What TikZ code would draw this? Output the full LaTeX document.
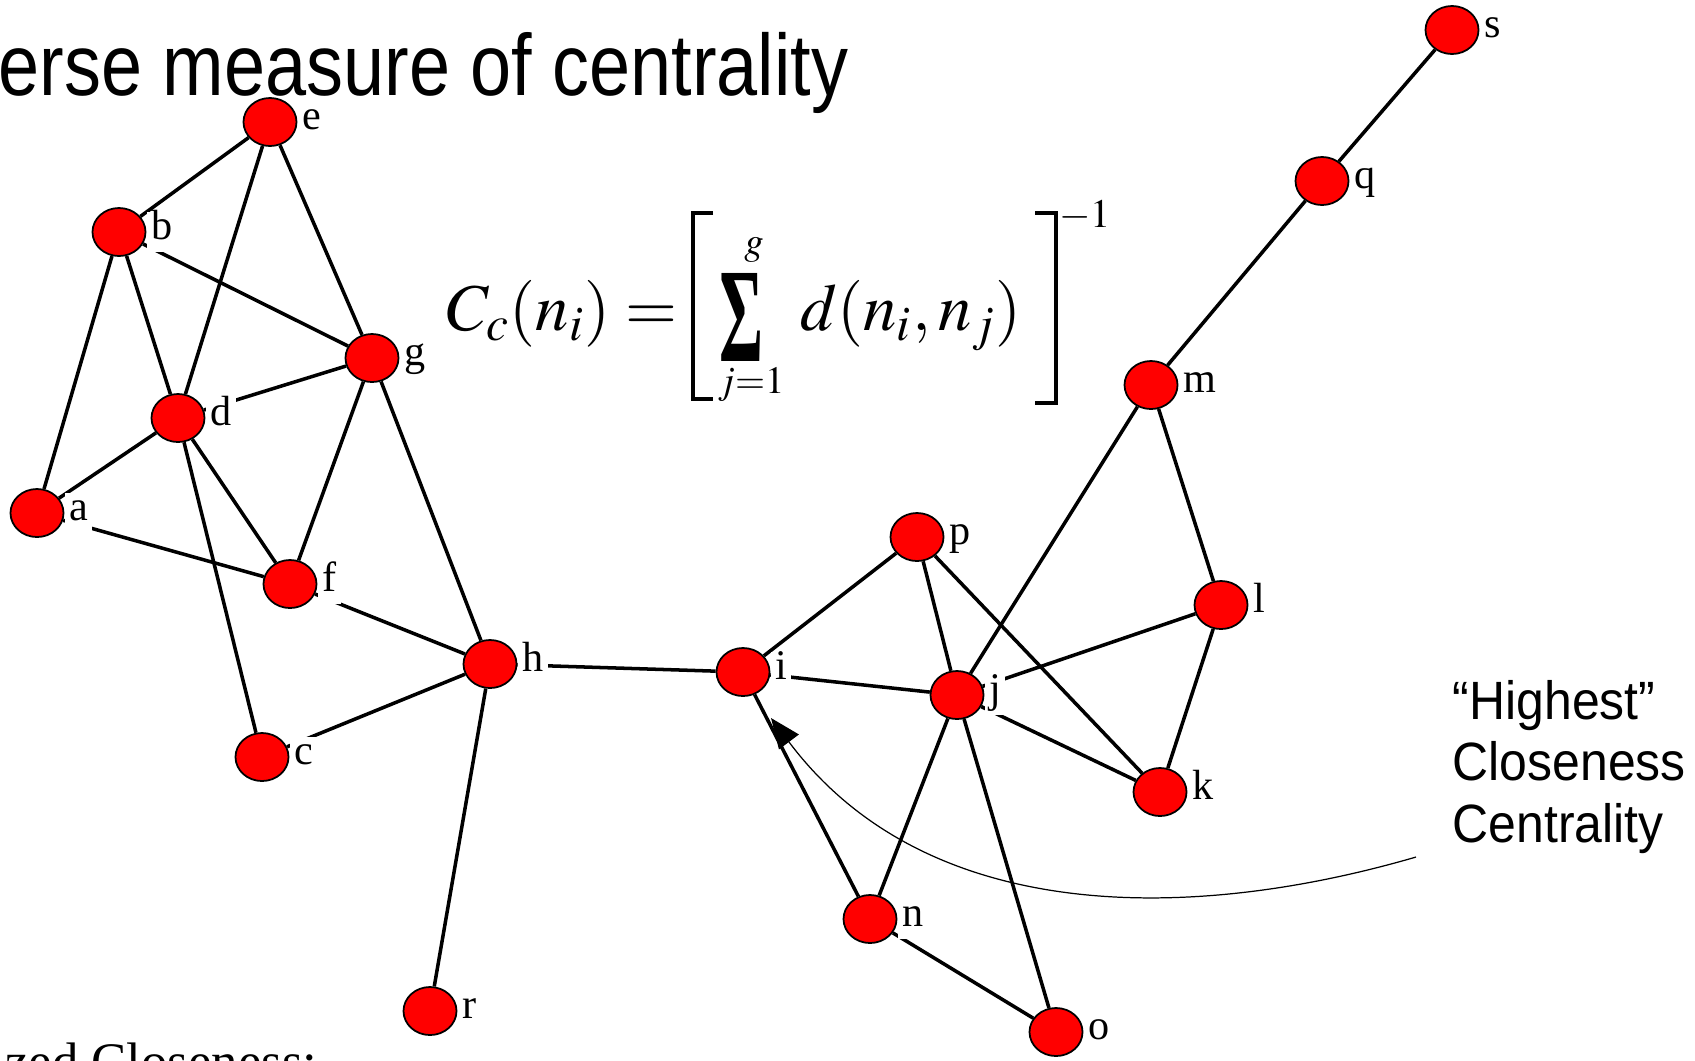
\documentclass[tikz,border=0pt]{standalone}
\usepackage{mathptmx}
\usepackage{graphicx}
\usepackage{fontspec}
\setmainfont{Liberation Serif}
\setsansfont{Liberation Sans}
\usetikzlibrary{backgrounds,arrows.meta,shapes.geometric}
\tikzset{
  vtx/.style={ellipse, draw=black, line width=0.5pt, fill=red,
    minimum width=0.53cm, minimum height=0.48cm, inner sep=0pt},
  vlab/.style={fill=white, inner sep=1.2pt, font=\fontsize{12}{12}\selectfont,
    text height=6.6pt, text depth=2.2pt, label distance=0pt},
  edge/.style={line width=1pt, black},
  bracketline/.style={line width=1pt, black},
  handtext/.style={font=\sffamily, inner sep=0pt, anchor=base west},
  mathtext/.style={font=\fontsize{19}{24}\selectfont, inner sep=0pt},
  limtext/.style={font=\fontsize{11}{13}\selectfont, inner sep=0pt}
}
\begin{document}
\begin{tikzpicture}[x=0.01cm, y=-0.01cm]
\useasboundingbox (0,0) rectangle (1695,1060);
\clip (0,0) rectangle (1695,1060);

% title fragments
\node[handtext, font=\sffamily\fontsize{21}{24}\selectfont] (title) at (-2,95)
  {\scalebox{1}[1.18]{erse measure of centrality}};
\node[font=\fontsize{15}{18}\selectfont, inner sep=0pt, anchor=base east] (norm) at (318,1079)
  {zed Closeness:};

% vertices
\node[vtx, label={[vlab]right:a}] (a) at (37,513) {};
\node[vtx, label={[vlab]right:b}] (b) at (119,232) {};
\node[vtx, label={[vlab]right:c}] (c) at (262,757) {};
\node[vtx, label={[vlab]right:d}] (d) at (178,418) {};
\node[vtx, label={[vlab]right:e}] (e) at (270,122) {};
\node[vtx, label={[vlab]right:f}] (f) at (290,584) {};
\node[vtx, label={[vlab]right:g}] (g) at (372,358) {};
\node[vtx, label={[vlab]right:h}] (h) at (490,664) {};
\node[vtx, label={[vlab]right:i}] (i) at (743,672) {};
\node[vtx, label={[vlab]right:j}] (j) at (957,695) {};
\node[vtx, label={[vlab]right:k}] (k) at (1160,792) {};
\node[vtx, label={[vlab]right:l}] (l) at (1221,605) {};
\node[vtx, label={[vlab]right:m}] (m) at (1151,385) {};
\node[vtx, label={[vlab]right:n}] (n) at (870,919) {};
\node[vtx, label={[vlab]right:o}] (o) at (1056,1032) {};
\node[vtx, label={[vlab]right:p}] (p) at (917,537) {};
\node[vtx, label={[vlab]right:q}] (q) at (1322,181) {};
\node[vtx, label={[vlab]right:r}] (r) at (430,1011) {};
\node[vtx, label={[vlab]right:s}] (s) at (1452,30) {};

% edges behind nodes
\begin{pgfonlayer}{background}
\draw[edge] (e) -- (b);
\draw[edge] (e) -- (d);
\draw[edge] (e) -- (g);
\draw[edge] (b) -- (g);
\draw[edge] (b) -- (d);
\draw[edge] (b) -- (a);
\draw[edge] (d) -- (g);
\draw[edge] (d) -- (a);
\draw[edge] (d) -- (f);
\draw[edge] (d) -- (c);
\draw[edge] (g) -- (f);
\draw[edge] (g) -- (h);
\draw[edge] (a) -- (f);
\draw[edge] (f) -- (h);
\draw[edge] (h) -- (c);
\draw[edge] (h) -- (r);
\draw[edge] (h) -- (i);
\draw[edge] (i) -- (p);
\draw[edge] (i) -- (j);
\draw[edge] (i) -- (n);
\draw[edge] (p) -- (j);
\draw[edge] (p) -- (k);
\draw[edge] (j) -- (m);
\draw[edge] (j) -- (l);
\draw[edge] (j) -- (k);
\draw[edge] (j) -- (n);
\draw[edge] (j) -- (o);
\draw[edge] (n) -- (o);
\draw[edge] (m) -- (l);
\draw[edge] (l) -- (k);
\draw[edge] (m) -- (q);
\draw[edge] (q) -- (s);
\end{pgfonlayer}

% formula
\node[mathtext, anchor=base west] (lhs) at (446,330) {$C_c(n_i)=$};
\node[inner sep=0pt] (sum) at (741,317) {\resizebox{0.44cm}{0.88cm}{\bfseries Σ}};
\node[limtext] (sup) at (754,250) {$g$};
\node[limtext] (sub) at (751,385) {$j{=}1$};
\node[mathtext, anchor=base west] (rhs) at (800,330) {$d(n_i,n_j)$};
\node[inner sep=0pt, font=\fontsize{11.5}{13}\selectfont] (inv) at (1085,216) {$-1$};
\draw[bracketline] (713,213) -- (693,213) -- (693,399) -- (713,399);
\draw[bracketline] (1035,213) -- (1056,213) -- (1056,403) -- (1035,403);

% annotation
\node[handtext, font=\sffamily\fontsize{14.2}{17}\selectfont] (t1) at (1452,719) {\scalebox{1}[1.08]{“Highest”}};
\node[handtext, font=\sffamily\fontsize{14.2}{17}\selectfont] (t2) at (1452,780) {\scalebox{1}[1.08]{Closeness}};
\node[handtext, font=\sffamily\fontsize{14.2}{17}\selectfont] (t3) at (1452,842) {\scalebox{1}[1.08]{Centrality}};
\coordinate (cstart) at (1416,857);
\coordinate (ctip) at (771,718);
\draw[line width=0.35pt, -{Triangle[length=8.5pt, width=7pt]}]
  (cstart) .. controls (1200,920) and (930,930) .. (ctip);
\end{tikzpicture}
\end{document}
